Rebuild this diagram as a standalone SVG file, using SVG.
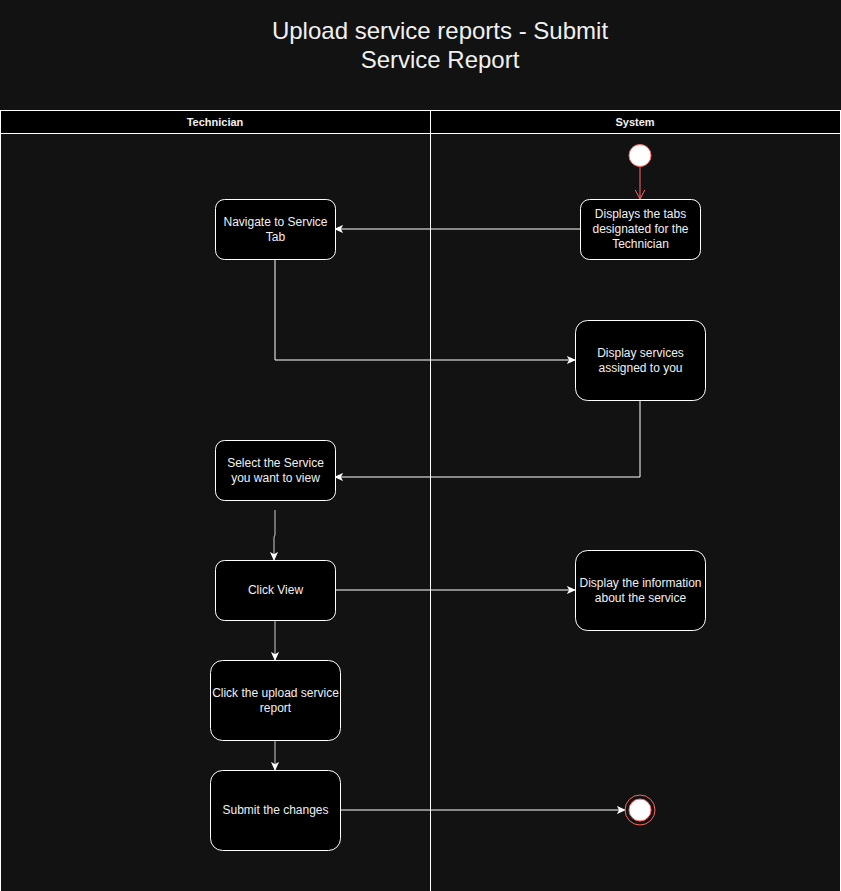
<svg xmlns="http://www.w3.org/2000/svg" width="841" height="891" viewBox="0 0 841 891">
<defs>
<marker id="arr" viewBox="0 0 10 10" refX="9" refY="5" markerWidth="9" markerHeight="9" markerUnits="userSpaceOnUse" orient="auto">
<path d="M0,0.5 L10,5 L0,9.5 L2.5,5 Z" fill="#ffffff"/>
</marker>
<marker id="arrOpen" viewBox="0 0 10 10" refX="9.5" refY="5" markerWidth="10" markerHeight="10" markerUnits="userSpaceOnUse" orient="auto">
<path d="M0,0 L9.5,5 L0,10" fill="none" stroke="#ff6666" stroke-width="1"/>
</marker>
</defs>
<style>
text{font-family:"Liberation Sans",Arial,sans-serif;fill:#f0f0f0;}
.title{font-size:24px;text-anchor:middle;}
.hdr{font-size:11px;font-weight:bold;text-anchor:middle;}
.lbl{font-size:12px;text-anchor:middle;}
.node rect{fill:#000000;stroke:#ffffff;stroke-width:1;}
.conn path{fill:none;stroke:#ffffff;stroke-width:1;marker-end:url(#arr);}
</style>
<rect x="0" y="0" width="841" height="891" fill="#121212"/>
<g id="title">
<text class="title" x="440" y="39">Upload service reports - Submit</text>
<text class="title" x="440" y="68">Service Report</text>
</g>
<g id="pool">
<rect x="0.5" y="110.5" width="840" height="23" fill="#000000" stroke="#ffffff"/>
<line x1="430.5" y1="110.5" x2="430.5" y2="891" stroke="#ffffff"/>
<line x1="0.5" y1="133.5" x2="0.5" y2="891" stroke="#ffffff"/>
<line x1="840.5" y1="133.5" x2="840.5" y2="891" stroke="#ffffff"/>
<text class="hdr" x="215" y="126">Technician</text>
<text class="hdr" x="635" y="126">System</text>
</g>
<g class="conn" id="connectors">
<path d="M640,167 L640,199" stroke="#ff6666" style="stroke:#ff6666;marker-end:url(#arrOpen)"/>
<path d="M580,229 L335,229"/>
<path d="M275,259 L275,360 L575,360"/>
<path d="M640,400 L640,477 L335,477"/>
<path d="M275,510 L275,535 L274,537 L274,560" style="stroke:#cccccc"/>
<path d="M335,590 L575,590"/>
<path d="M275,620 L275,660" style="stroke:#cccccc"/>
<path d="M275,740 L275,770" style="stroke:#cccccc"/>
<path d="M340,810 L625,810"/>
</g>
<g id="start">
<circle cx="640" cy="155.5" r="11" fill="#ffffff" stroke="#ff6666" stroke-width="1"/>
</g>
<g class="node" id="n-displays-tabs">
<rect x="580.5" y="199.5" width="120" height="60" rx="9"/>
<text class="lbl" x="640.5" y="218">Displays the tabs</text>
<text class="lbl" x="640.5" y="233">designated for the</text>
<text class="lbl" x="640.5" y="248">Technician</text>
</g>
<g class="node" id="n-navigate">
<rect x="215.5" y="199.5" width="120" height="60" rx="9"/>
<text class="lbl" x="275.5" y="226">Navigate to Service</text>
<text class="lbl" x="275.5" y="241">Tab</text>
</g>
<g class="node" id="n-display-services">
<rect x="575.5" y="320.5" width="130" height="80" rx="12"/>
<text class="lbl" x="640.5" y="357">Display services</text>
<text class="lbl" x="640.5" y="372">assigned to you</text>
</g>
<g class="node" id="n-select">
<rect x="215.5" y="440.5" width="120" height="60" rx="9"/>
<text class="lbl" x="275.5" y="467">Select the Service</text>
<text class="lbl" x="275.5" y="482">you want to view</text>
</g>
<g class="node" id="n-click-view">
<rect x="215.5" y="560.5" width="120" height="60" rx="9"/>
<text class="lbl" x="275.5" y="594">Click View</text>
</g>
<g class="node" id="n-display-info">
<rect x="575.5" y="550.5" width="130" height="80" rx="12"/>
<text class="lbl" x="640.5" y="587">Display the information</text>
<text class="lbl" x="640.5" y="602">about the service</text>
</g>
<g class="node" id="n-upload">
<rect x="210.5" y="660.5" width="130" height="80" rx="12"/>
<text class="lbl" x="275.5" y="697">Click the upload service</text>
<text class="lbl" x="275.5" y="712">report</text>
</g>
<g class="node" id="n-submit">
<rect x="210.5" y="770.5" width="130" height="80" rx="12"/>
<text class="lbl" x="275.5" y="814">Submit the changes</text>
</g>
<g id="end">
<circle cx="640" cy="810" r="15" fill="none" stroke="#ff6666" stroke-width="1"/>
<circle cx="640" cy="810" r="11" fill="#ffffff" stroke="#ff6666" stroke-width="1"/>
</g>
</svg>
